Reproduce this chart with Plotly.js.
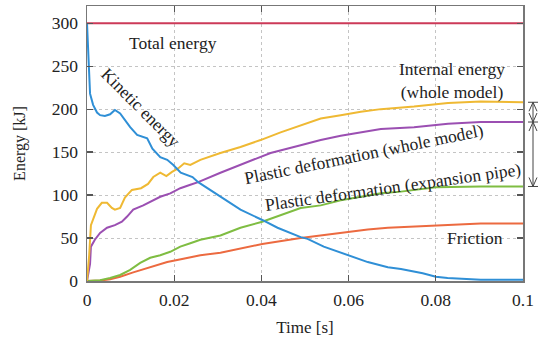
<!DOCTYPE html>
<html><head><meta charset="utf-8">
<script src="https://cdn.plot.ly/plotly-3.0.1.min.js"></script>
<style>html,body{margin:0;padding:0;background:#fff}#chart{width:540px;height:342px}</style>
</head><body><div id="chart"></div>
<script>
// Data (time in s, energy in kJ)
const totalT = [0, 0.1];
const totalE = [300, 300];

const kineticT = [0, 0.0002, 0.0005, 0.0007, 0.0014, 0.0023, 0.003, 0.0041, 0.0053, 0.0064, 0.0076, 0.0087, 0.0099, 0.0115, 0.0138, 0.0150, 0.0168, 0.0184, 0.0198, 0.0215, 0.0242, 0.0255, 0.0306, 0.0352, 0.0402, 0.0437, 0.0490, 0.0506, 0.0543, 0.0598, 0.0644, 0.0690, 0.0720, 0.0770, 0.0800, 0.0827, 0.0903, 0.1];
const kineticE = [300, 280, 240, 218, 205, 196, 193, 192, 194, 199, 195, 187, 179, 170, 166, 154, 144, 141, 135, 126, 121, 115, 98, 83, 71, 62, 51, 49, 40, 30, 22, 16, 14, 9, 5, 3.5, 1.5, 1.5];

const internalT = [0, 0.0005, 0.0009, 0.0014, 0.0023, 0.0034, 0.0046, 0.0057, 0.0064, 0.0076, 0.0087, 0.0103, 0.0124, 0.014, 0.0152, 0.0168, 0.0182, 0.0195, 0.0209, 0.0223, 0.0237, 0.026, 0.0306, 0.0352, 0.0398, 0.0444, 0.049, 0.0536, 0.0582, 0.0628, 0.0674, 0.075, 0.0828, 0.0903, 0.1];
const internalE = [0, 30, 65, 72, 84, 91, 91, 85, 83, 85, 97, 106, 108, 113, 121, 126, 122, 127, 131, 137, 135, 141, 149, 156, 164, 173, 181, 189, 193, 197, 200, 203, 207, 209, 208];

const plasticWholeT = [0, 0.0007, 0.0009, 0.0018, 0.003, 0.0046, 0.0064, 0.008, 0.0092, 0.0106, 0.0129, 0.0152, 0.0168, 0.0191, 0.0214, 0.0237, 0.0255, 0.0306, 0.0375, 0.0421, 0.049, 0.0536, 0.0582, 0.0628, 0.0674, 0.075, 0.0828, 0.0903, 0.1];
const plasticWholeE = [0, 20, 40, 48, 56, 62, 65, 69, 75, 83, 88, 94, 98, 102, 108, 112, 115, 126, 140, 149, 158, 164, 169, 173, 177, 179, 183, 185, 185];

const plasticPipeT = [0, 0.003, 0.0053, 0.0076, 0.0099, 0.0122, 0.0145, 0.0168, 0.0191, 0.0214, 0.0237, 0.026, 0.0306, 0.0352, 0.0402, 0.0444, 0.049, 0.0536, 0.0582, 0.0628, 0.0674, 0.072, 0.08, 0.0903, 0.1];
const plasticPipeE = [0, 1, 3.5, 7, 13, 21, 27, 30, 34, 40, 44, 48, 53, 62, 69, 77, 85, 88, 94, 98, 102, 104, 109, 110, 110];

const frictionT = [0, 0.003, 0.0053, 0.0076, 0.0106, 0.0145, 0.0184, 0.0221, 0.026, 0.0306, 0.0352, 0.0402, 0.049, 0.0536, 0.0598, 0.0644, 0.069, 0.08, 0.0903, 0.1];
const frictionE = [0, 0.5, 2, 5, 10, 16, 22, 26, 30, 33, 38, 43, 50, 53, 57, 60, 62, 65, 67, 67];

const xTicks = [0, 0.02, 0.04, 0.06, 0.08, 0.1];
const xTickText = ['0', '0.02', '0.04', '0.06', '0.08', '0.1'];
const yTicks = [0, 50, 100, 150, 200, 250, 300];

const FONT = 'Liberation Serif, Times New Roman, serif';
function line(x, y, color) {
  return {x: x, y: y, type: 'scatter', mode: 'lines', line: {color: color, width: 2}, hoverinfo: 'skip'};
}
const traces = [
  line(totalT, totalE, '#cc3a58'),
  line(frictionT, frictionE, '#ec6a40'),
  line(plasticPipeT, plasticPipeE, '#7fbd42'),
  line(plasticWholeT, plasticWholeE, '#9b4fb2'),
  line(internalT, internalE, '#efb933'),
  line(kineticT, kineticE, '#2f8fd6')
];

// Bracket arrows to the right of the plot, built from the last values of the series
const W = 436, H = 275, YR = 320;
const px = 1 / W;
const kpx = YR / H;
const xA = 1 + 10 * px;
const yTop = internalE[internalE.length - 1];
const yMid = plasticWholeE[plasticWholeE.length - 1];
const yBot = plasticPipeE[plasticPipeE.length - 1];
const shapes = [];
const sl = {color: '#444', width: 1};
function seg(x0, y0, x1, y1) {
  shapes.push({type: 'line', xref: 'paper', yref: 'y', x0: x0, y0: y0, x1: x1, y1: y1, line: sl, layer: 'above'});
}
seg(xA, yTop, xA, yBot);
[yTop, yMid, yBot].forEach(v => seg(xA - 5 * px, v, xA + 5 * px, v));
function head(yv, dir) { // dir +1 head pointing up, -1 pointing down
  seg(xA, yv, xA - 4 * px, yv - dir * 9 * kpx);
  seg(xA, yv, xA + 4 * px, yv - dir * 9 * kpx);
}
head(yTop, 1); head(yMid, -1); head(yMid, 1); head(yBot, -1);

const af = {family: FONT, size: 17.5, color: '#222'};
const annotations = [
  {text: 'Total energy', x: 0.0198, y: 277, xref: 'x', yref: 'y', showarrow: false, font: af},
  {text: 'Kinetic energy', x: 0.0122, y: 202, xref: 'x', yref: 'y', showarrow: false, font: af, textangle: 45},
  {text: 'Internal energy<br>(whole model)', x: 0.0837, y: 233, xref: 'x', yref: 'y', showarrow: false, font: af},
  {text: 'Plastic deformation (whole model)', x: 0.0636, y: 148, xref: 'x', yref: 'y', showarrow: false, font: af, textangle: -11.5},
  {text: 'Plastic deformation (expansion pipe)', x: 0.0702, y: 109, xref: 'x', yref: 'y', showarrow: false, font: af, textangle: -8},
  {text: 'Friction', x: 0.0890, y: 50, xref: 'x', yref: 'y', showarrow: false, font: af}
];

const axisCommon = {
  showline: true, linecolor: '#777', linewidth: 1.5, mirror: 'ticks',
  ticks: 'inside', ticklen: 6, tickcolor: '#555', tickwidth: 1.2,
  showgrid: true, gridcolor: '#c4c4c4', griddash: 'dot', gridwidth: 1,
  zeroline: false
};
const layout = {
  width: 540, height: 342,
  margin: {l: 87, r: 17, t: 6, b: 61},
  paper_bgcolor: '#fff', plot_bgcolor: '#fff',
  font: {family: FONT, size: 17, color: '#222'},
  showlegend: false,
  xaxis: Object.assign({}, axisCommon, {
    range: [0, 0.1], tickvals: xTicks, ticktext: xTickText, ticklabelstandoff: 2,
    tickfont: {family: FONT, size: 17.5, color: '#222'},
    title: {text: 'Time [s]', font: {family: FONT, size: 17, color: '#222'}, standoff: 12}
  }),
  yaxis: Object.assign({}, axisCommon, {
    range: [0, YR], tickvals: yTicks, ticklabelstandoff: 4,
    tickfont: {family: FONT, size: 17.5, color: '#222'},
    title: {text: 'Energy [kJ]', font: {family: FONT, size: 16, color: '#222'}, standoff: 22}
  }),
  shapes: shapes,
  annotations: annotations
};
Plotly.newPlot('chart', traces, layout, {displayModeBar: false, staticPlot: true});
</script></body></html>
